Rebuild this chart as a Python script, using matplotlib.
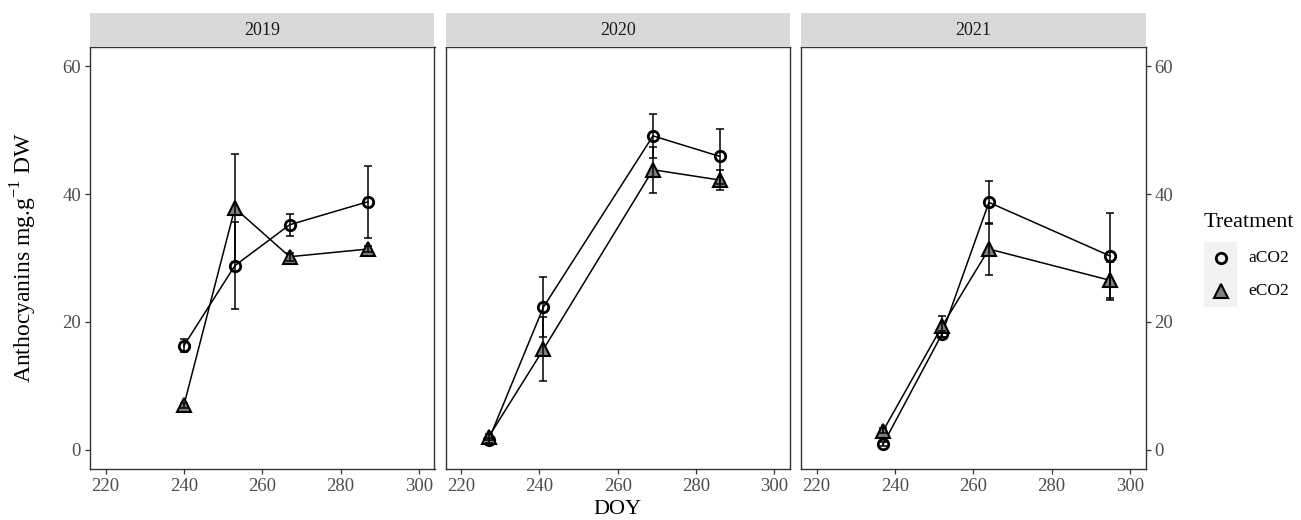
import numpy as np
import matplotlib
matplotlib.use('Agg')
import matplotlib.pyplot as plt

plt.rcParams['font.family'] = ['Liberation Serif', 'DejaVu Serif']
plt.rcParams['mathtext.fontset'] = 'custom'
plt.rcParams['mathtext.rm'] = 'Liberation Serif'

years = ['2019', '2020', '2021']
treatments = ['aCO2', 'eCO2']

# DOY sampling dates per year
doy = {
    '2019': [240, 253, 267, 287],
    '2020': [227, 241, 269, 286],
    '2021': [237, 252, 264, 295],
}
# mean anthocyanins (mg/g DW) and error bars (+/-)
mean_a = {
    '2019': [16.3, 28.8, 35.2, 38.8],
    '2020': [1.5, 22.3, 49.1, 45.9],
    '2021': [0.9, 18.1, 38.7, 30.3],
}
err_a = {
    '2019': [1.0, 6.8, 1.7, 5.6],
    '2020': [0.4, 4.7, 3.4, 4.3],
    '2021': [0.3, 0.5, 3.4, 6.8],
}
mean_e = {
    '2019': [7.0, 37.8, 30.2, 31.4],
    '2020': [2.0, 15.7, 43.8, 42.2],
    '2021': [3.0, 19.3, 31.4, 26.5],
}
err_e = {
    '2019': [0.4, 8.4, 0.6, 0.5],
    '2020': [0.4, 5.0, 3.6, 1.6],
    '2021': [0.4, 1.7, 4.1, 2.8],
}

x_ticks = [220, 240, 260, 280, 300]
y_ticks = [0, 20, 40, 60]

W, H = 1301, 520
fig = plt.figure(figsize=(W / 100, H / 100), dpi=100)

panel_left = [90, 445.5, 801]
panel_w = 344.5
panel_top, panel_bot = 47, 469
strip_top = 13.3

tick_col = '#4d4d4d'
frame_col = '#333333'

for i, yr in enumerate(years):
    ax = fig.add_axes([panel_left[i] / W, (H - panel_bot) / H,
                       panel_w / W, (panel_bot - panel_top) / H])
    # strip
    sx = fig.add_axes([panel_left[i] / W, (H - panel_top) / H,
                       panel_w / W, (panel_top - strip_top) / H])
    sx.set_facecolor('#d9d9d9')
    sx.set_xticks([])
    sx.set_yticks([])
    for s in sx.spines.values():
        s.set_visible(False)
    sx.text(0.5, 0.5, yr, ha='center', va='center', fontsize=13,
            color='#1a1a1a', transform=sx.transAxes)

    ax.plot(doy[yr], mean_a[yr], color='black', lw=1.1, zorder=2)
    ax.plot(doy[yr], mean_e[yr], color='black', lw=1.1, zorder=2)
    ax.plot(doy[yr], mean_a[yr], 'o', ms=7.5, mfc='none', mec='black',
            mew=2, zorder=3)
    ax.plot(doy[yr], mean_e[yr], '^', ms=10, mfc='#7f7f7f', mec='black',
            mew=1.5, zorder=3)
    ax.errorbar(doy[yr], mean_a[yr], yerr=err_a[yr], fmt='none',
                ecolor='black', elinewidth=1.1, capsize=2.8, capthick=1.1,
                zorder=4)
    ax.errorbar(doy[yr], mean_e[yr], yerr=err_e[yr], fmt='none',
                ecolor='black', elinewidth=1.1, capsize=2.8, capthick=1.1,
                zorder=4)

    ax.set_xlim(216, 304)
    ax.set_ylim(-3, 63)
    ax.set_xticks(x_ticks)
    ax.set_yticks(y_ticks)
    for s in ax.spines.values():
        s.set_color(frame_col)
        s.set_linewidth(1.0)
    ax.tick_params(axis='both', direction='out', length=3.5, width=0.9,
                   color=frame_col, labelcolor=tick_col, labelsize=13.5,
                   pad=3)
    if i == 0:
        ax.tick_params(axis='y', left=True, labelleft=True)
    elif i == 1:
        ax.tick_params(axis='y', left=False, labelleft=False)
    else:
        ax.tick_params(axis='y', left=False, labelleft=False,
                       right=True, labelright=True)

fig.text(617.5 / W, (H - 509) / H, 'DOY', ha='center', va='center',
         fontsize=16)
fig.text(24 / W, (H - 258) / H, r'Anthocyanins mg.g$^{\mathregular{-1}}$ DW',
         ha='center', va='center', rotation=90, fontsize=17)

# legend
lax = fig.add_axes([1204 / W, (H - 307) / H, 33 / W, 65 / H])
lax.set_facecolor('#f2f2f2')
lax.set_xlim(0, 1)
lax.set_ylim(0, 2)
lax.set_xticks([])
lax.set_yticks([])
for s in lax.spines.values():
    s.set_visible(False)
lax.plot([0.5], [1.5], 'o', ms=7.5, mfc='none', mec='black', mew=2,
         clip_on=False)
lax.plot([0.5], [0.5], '^', ms=10, mfc='#7f7f7f', mec='black', mew=1.5,
         clip_on=False)
for k, lab in enumerate(treatments):
    lax.text(1.33, 1.5 - k, lab, ha='left', va='center', fontsize=12.5,
             color='black', transform=lax.transData)
lax.text(0.0, 2.6, 'Treatment', ha='left', va='center', fontsize=16,
         transform=lax.transData)

fig.savefig('out.png', dpi=100)
